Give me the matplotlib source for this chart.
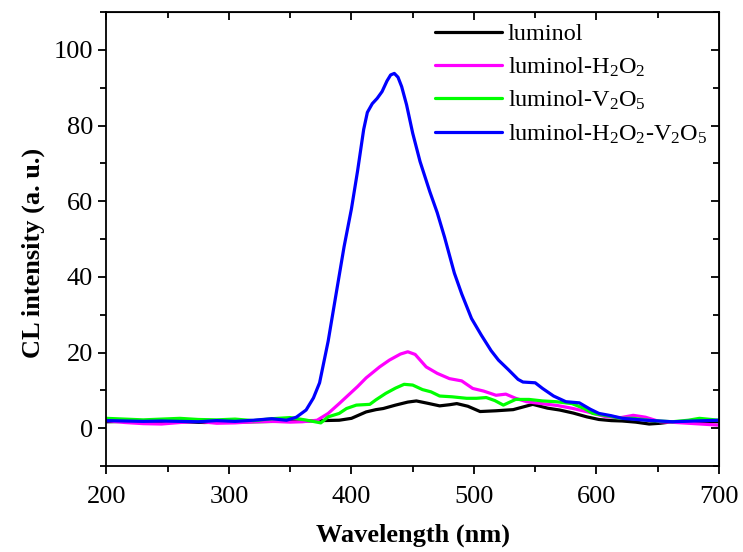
#!/usr/bin/env python
import numpy as np
import matplotlib
matplotlib.use('Agg')
import matplotlib.pyplot as py
from matplotlib.ticker import MultipleLocator

#--data (wavelength in nm, CL intensity in a.u.)
wl_lum = [200,220,240,260,280,300,320,340,360,375,390,400,412,420,426,436,446,453,462,472,
          480,486,495,505,518,532,548,560,570,581,592,602,612,621,632,643,652,662,680,700]
cl_lum = [1.7,1.8,1.6,1.7,1.5,1.6,1.7,1.8,1.9,2.0,2.1,2.6,4.3,4.9,5.2,6.1,6.9,7.2,6.6,5.9,
          6.2,6.5,5.8,4.4,4.6,4.9,6.3,5.3,4.8,4.0,3.0,2.3,2.0,1.9,1.6,1.1,1.3,1.7,1.7,1.7]

wl_h2o2 = [200,215,230,245,260,275,290,305,320,335,350,360,372,381,390,396,405,412,423,431,
           440,446,452,461,470,480,490,499,508,518,526,534,543,555,568,581,594,608,620,630,
           640,652,665,680,700]
cl_h2o2 = [2.0,1.5,1.2,1.1,1.5,1.8,1.3,1.4,1.7,1.8,1.6,1.7,2.1,3.9,6.5,8.3,11.0,13.3,16.2,18.0,
           19.6,20.2,19.5,16.2,14.5,13.1,12.5,10.5,9.8,8.7,9.0,7.9,7.0,6.5,6.0,5.2,4.2,3.0,2.8,3.4,
           2.9,1.7,1.5,1.2,0.8]

wl_v2o5 = [200,215,230,245,260,275,290,305,320,335,350,362,375,381,390,396,404,415,420,428,
           436,443,450,458,465,472,482,494,502,510,517,524,534,545,556,567,580,590,597,610,
           620,630,645,662,675,684,700]
cl_v2o5 = [2.6,2.4,2.2,2.4,2.6,2.3,2.2,2.4,2.0,2.5,2.8,2.2,1.4,3.0,3.9,5.2,6.1,6.3,7.5,9.2,
           10.6,11.6,11.4,10.2,9.6,8.5,8.3,7.9,7.9,8.1,7.3,6.1,7.6,7.6,7.2,7.0,6.5,5.2,3.9,3.2,
           2.6,2.6,2.0,1.7,2.1,2.6,2.1]

wl_all = [200,215,230,245,260,275,290,305,320,335,347,355,363,369,374,381,388,394,400,405,
          410,413,417,421,425,429,432,435,438,441,445,450,456,464,470,476,484,490,498,506,
          514,520,528,536,540,550,556,565,575,586,595,602,612,621,640,662,680,700]
cl_all = [2.0,1.9,1.8,1.9,1.8,1.7,2.0,1.8,2.1,2.5,2.1,2.9,4.8,8.0,12.0,23.0,36.5,48.0,58.0,68.0,
          79.0,83.5,85.8,87.2,89.0,91.8,93.4,93.8,92.8,90.3,85.5,78.0,70.5,62.5,57.0,50.5,41.0,35.5,29.0,24.6,
          20.5,18.0,15.5,12.9,12.2,12.0,10.5,8.5,7.0,6.7,5.0,3.9,3.3,2.6,2.1,1.7,1.9,2.1]

labels = ['luminol',
          r'luminol-H$\mathregular{_2}$O$\mathregular{_2}$',
          r'luminol-V$\mathregular{_2}$O$\mathregular{_5}$',
          r'luminol-H$\mathregular{_2}$O$\mathregular{_2}$-V$\mathregular{_2}$O$\mathregular{_5}$']
colors = ['#000000','#ff00ff','#00ff00','#0000ff']

py.rcParams['font.family'] = ['Liberation Serif','DejaVu Serif']
py.rcParams['mathtext.fontset'] = 'custom'
py.rcParams['mathtext.rm'] = 'Liberation Serif'

fig = py.figure(figsize=(7.43,5.52),dpi=100)
ax = fig.add_axes([0.1432,0.1558,0.8245,0.8222])

data = [(wl_lum,cl_lum),(wl_h2o2,cl_h2o2),(wl_v2o5,cl_v2o5),(wl_all,cl_all)]
for (x,y),c,l in zip(data,colors,labels):
    ax.plot(x,y,color=c,lw=2.3,label=l,solid_joinstyle='round',solid_capstyle='round')

ax.set_xlim(200,700)
ax.set_ylim(-10,110)
ax.xaxis.set_major_locator(MultipleLocator(100))
ax.xaxis.set_minor_locator(MultipleLocator(50))
ax.yaxis.set_major_locator(MultipleLocator(20))
ax.yaxis.set_minor_locator(MultipleLocator(10))

for s in ax.spines.values(): s.set_linewidth(1.3)
ax.tick_params(axis='both',which='major',direction='out',length=6,width=1.3,labelsize=19)
ax.tick_params(axis='x',which='major',pad=8.5)
ax.tick_params(axis='both',which='minor',direction='out',length=4,width=1.3)

#--mirrored inward ticks on top and right
axt = ax.secondary_xaxis('top')
axt.xaxis.set_major_locator(MultipleLocator(100))
axt.xaxis.set_minor_locator(MultipleLocator(50))
axt.tick_params(which='major',direction='in',length=6,width=1.3,labeltop=False)
axt.tick_params(which='minor',direction='in',length=4,width=1.3)
axr = ax.secondary_yaxis('right')
axr.yaxis.set_major_locator(MultipleLocator(20))
axr.yaxis.set_minor_locator(MultipleLocator(10))
axr.tick_params(which='major',direction='in',length=6,width=1.3,labelright=False)
axr.tick_params(which='minor',direction='in',length=4,width=1.3)

ax.set_xlabel('Wavelength (nm)',fontsize=19,fontweight='bold',labelpad=11)
ax.set_ylabel('CL intensity (a. u.)',fontsize=19,fontweight='bold')
ax.yaxis.set_label_coords(-0.10,0.469)

ax.legend(loc='upper left',bbox_to_anchor=(0.536,0.976),frameon=False,fontsize=17.5,
          handlelength=2.75,handletextpad=0.25,labelspacing=0.42,borderpad=0,borderaxespad=0)

py.savefig('out.png',dpi=100)
